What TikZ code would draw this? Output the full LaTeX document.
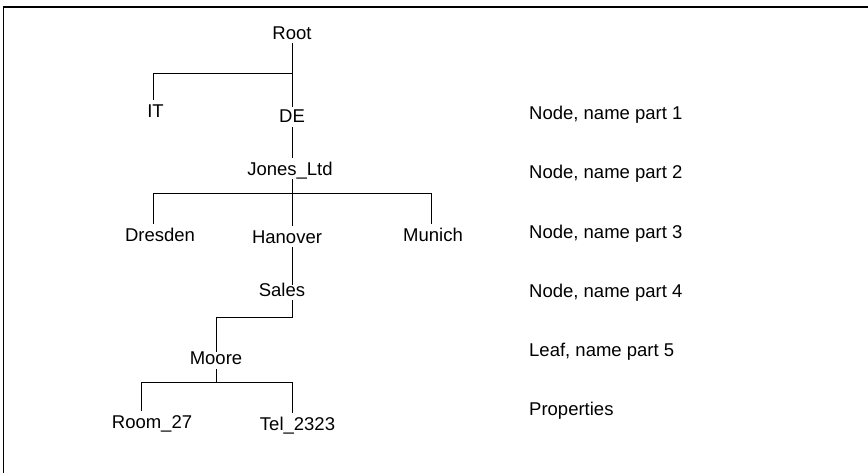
\documentclass[tikz,border=0pt]{standalone}
\usepackage{fontspec}
\setmainfont{Liberation Sans}
\begin{document}
\begin{tikzpicture}[x=1pt,y=1pt,
  lbl/.style={font=\fontsize{18.5}{22}\selectfont, inner xsep=0pt, inner ysep=4pt,
              text height=13.2pt, text depth=0pt},
  side/.style={lbl, anchor=west},
  branch/.style={line width=1pt, line cap=butt},
  frame/.style={line width=1.3pt}]
\useasboundingbox (0,0) rectangle (868,-473);

% outer frame (only top and left edges lie inside the page)
\draw[frame] (3.5,-473) -- (3.5,-7) -- (868,-7);

% tree nodes
\node[lbl] (root)  at (292,-32.5) {Root};
\node[lbl] (it)    at (155.5,-111) {IT};
\node[lbl] (de)    at (292,-116) {DE};
\node[lbl] (jones) at (290,-168.5) {Jones\_Ltd};
\node[lbl] (dresden) at (160,-234.5) {Dresden};
\node[lbl] (hanover) at (287,-236.5) {Hanover};
\node[lbl] (munich)  at (433,-234.5) {Munich};
\node[lbl] (sales) at (282,-289.5) {Sales};
\node[lbl] (moore) at (216,-358) {Moore};
\node[lbl] (room)  at (152,-421.5) {Room\_27};
\node[lbl] (tel)   at (297.5,-423.5) {Tel\_2323};

% level descriptions
\node[side] (d1) at (529,-112.5) {Node, name part 1};
\node[side] (d2) at (529,-171.5) {Node, name part 2};
\node[side] (d3) at (529,-231.5) {Node, name part 3};
\node[side] (d4) at (529,-290.5) {Node, name part 4};
\node[side] (d5) at (529,-350)   {Leaf, name part 5};
\node[side] (d6) at (529,-408.5) {Properties};

% trunk and junction points
\coordinate (trunk) at (292,0);
\coordinate (ja)  at (292,-74);
\coordinate (jal) at (153,-74);
\coordinate (jb)  at (292,-194);
\coordinate (jbl) at (153,-194);
\coordinate (jbr) at (431,-194);
\coordinate (jc)  at (292,-317);
\coordinate (jcl) at (216,-317);
\coordinate (jd)  at (216,-382);
\coordinate (jdl) at (141,-382);
\coordinate (jdr) at (292,-382);

% connectors
\draw[branch] (root.south) -- ([yshift=-2pt]de.north);
\draw[branch] (ja) -- (jal) -- (jal |- it.north);
\draw[branch] (de.south -| trunk) -- (jones.north -| trunk);
\draw[branch] (jones.south -| trunk) -- (hanover.north -| trunk);
\draw[branch] (jbl |- dresden.north) -- (jbl) -- (jbr) -- (jbr |- munich.north);
\draw[branch] (hanover.south -| trunk) -- ([yshift=-6pt]sales.north -| trunk);
\draw[branch] (sales.south -| trunk) -- (jc) -- (jcl) -- ([yshift=-5pt]moore.north -| jcl);
\draw[branch] (moore.south -| jd) -- (jd);
\draw[branch] (jdl |- room.north) -- (jdl) -- (jdr) -- (jdr |- tel.north);
\end{tikzpicture}
\end{document}
